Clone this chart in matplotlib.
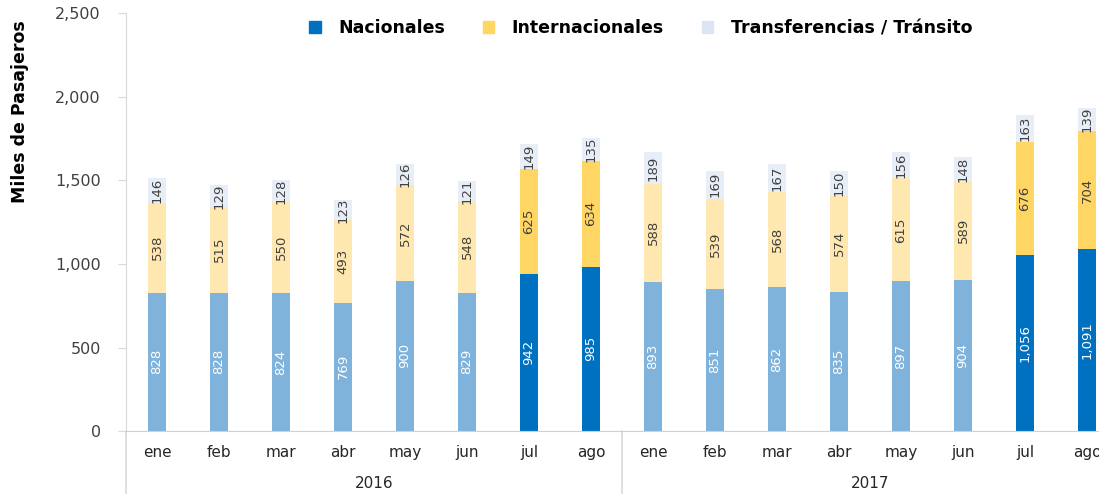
import numpy as np
import matplotlib.pyplot as plt
from matplotlib.patches import Patch
from matplotlib.ticker import FuncFormatter
import matplotlib.transforms as mtransforms

months = ['ene', 'feb', 'mar', 'abr', 'may', 'jun', 'jul', 'ago',
          'ene', 'feb', 'mar', 'abr', 'may', 'jun', 'jul', 'ago']
years = ['2016', '2017']
nacionales = [828, 828, 824, 769, 900, 829, 942, 985,
              893, 851, 862, 835, 897, 904, 1056, 1091]
internacionales = [538, 515, 550, 493, 572, 548, 625, 634,
                   588, 539, 568, 574, 615, 589, 676, 704]
transito = [146, 129, 128, 123, 126, 121, 149, 135,
            189, 169, 167, 150, 156, 148, 163, 139]
highlight = [6, 7, 14, 15]   # jul / ago

x = np.arange(len(months))
nac = np.array(nacionales)
intl = np.array(internacionales)
tra = np.array(transito)

nac_col = ['#0070C0' if i in highlight else '#7FB3DC' for i in x]
int_col = ['#FFD563' if i in highlight else '#FFE8AF' for i in x]
tra_col = '#E8EEF7'

fig = plt.figure(figsize=(10.99, 4.94), dpi=100)
ax = fig.add_axes([126/1099, 63/494, 992/1099, 417.5/494])

w = 0.3
b1 = ax.bar(x, nac, w, color=nac_col)
b2 = ax.bar(x, intl, w, bottom=nac, color=int_col)
b3 = ax.bar(x, tra, w, bottom=nac + intl, color=tra_col)

ax.bar_label(b1, labels=[f'{v:,}' for v in nac], label_type='center',
             rotation=90, color='white', fontsize=9.5)
ax.bar_label(b2, labels=[f'{v:,}' for v in intl], label_type='center',
             rotation=90, color='#404040', fontsize=9.5)
ax.bar_label(b3, labels=[f'{v:,}' for v in tra], label_type='center',
             rotation=90, color='#404040', fontsize=9.5)

ax.set_xlim(-0.5, len(months) - 0.5)
ax.set_ylim(0, 2500)
ax.set_yticks(np.arange(0, 2501, 500))
ax.yaxis.set_major_formatter(FuncFormatter(lambda v, p: f'{v:,.0f}'))
ax.tick_params(axis='y', length=6, color='#D9D9D9', labelcolor='#404040',
               labelsize=11.5, pad=12)
ax.set_xticks(x)
ax.set_xticklabels(months)
ax.tick_params(axis='x', length=0, labelcolor='#262626', labelsize=11, pad=10)

for s in ['top', 'right']:
    ax.spines[s].set_visible(False)
ax.spines['left'].set_color('#D9D9D9')
ax.spines['bottom'].set_color('#D0D0D0')

# year separators and labels under the category axis
trans = mtransforms.blended_transform_factory(ax.transData, ax.transAxes)
for sx in [-0.5, 7.5]:
    ax.plot([sx, sx], [0, -0.16], color='#D9D9D9', lw=1.2,
            transform=trans, clip_on=False)
for i, yr in enumerate(years):
    ax.text(3.5 + 8 * i, -0.125, yr, transform=trans, ha='center', va='center',
            fontsize=11, color='#262626')

fig.text(20/1099, 1 - 112/494, 'Miles de Pasajeros', rotation=90,
         ha='center', va='center', fontsize=12.5, fontweight='bold')

handles = [Patch(color='#0070C0', label='Nacionales'),
           Patch(color='#FFD563', label='Internacionales'),
           Patch(color='#DCE6F2', label='Transferencias / Tránsito')]
leg = ax.legend(handles=handles, ncol=3, loc='center',
                bbox_to_anchor=(0.519, 0.965), frameon=False,
                prop={'size': 12.5, 'weight': 'bold'},
                handlelength=0.65, handleheight=0.65,
                handletextpad=1.0, columnspacing=2.2)

plt.savefig('out.png', dpi=100)
